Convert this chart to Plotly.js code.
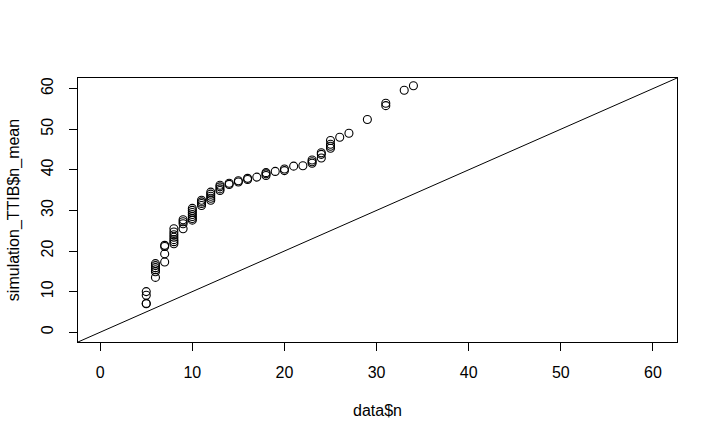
<!DOCTYPE html>
<html>
<head>
<meta charset="utf-8">
<script src="https://cdn.plot.ly/plotly-3.0.1.min.js"></script>
<style>html,body{margin:0;padding:0;background:#fff;}#chart{width:718px;height:440px;}</style>
</head>
<body>
<div id="chart"></div>
<script>
// data$n
var dataN = [
  5,5,5,5,
  6,6,6,6,6,6,
  7,7,7,7,
  8,8,8,8,8,8,8,
  9,9,9,9,
  10,10,10,10,10,10,10,
  11,11,11,11,
  12,12,12,12,12,
  13,13,13,13,
  14,14,
  15,15,
  16,16,
  17,
  18,18,18,
  19,
  20,20,
  21,
  22,
  23,23,23,
  24,24,24,
  25,25,25,25,
  26,
  27,
  29,
  31,31,
  33,
  34
];
// simulation_TTIB$n_mean
var nMean = [
  7.0,7.1,9.1,10.0,
  13.5,14.9,15.4,15.9,16.4,16.9,
  17.3,19.3,21.1,21.4,
  21.8,22.3,22.8,23.4,24.0,24.7,25.5,
  25.5,26.7,27.2,27.7,
  27.6,28.0,28.5,29.0,29.5,30.0,30.5,
  31.2,31.7,32.1,32.5,
  32.5,33.0,33.5,34.0,34.5,
  34.9,35.3,35.8,36.2,
  36.4,36.7,
  37.0,37.3,
  37.6,37.9,
  38.2,
  38.6,39.0,39.3,
  39.6,
  39.8,40.2,
  40.9,
  41.0,
  41.6,42.0,42.4,
  42.9,43.8,44.2,
  45.3,45.8,46.3,47.2,
  48.0,
  49.0,
  52.4,
  55.8,56.4,
  59.6,
  60.7
];
var tickVals = [0,10,20,30,40,50,60];
var tickText = ["0","10","20","30","40","50","60"];
var ablineIntercept = 0, ablineSlope = 1;

var axisLim = [0, 60.2];
var pad = 0.04 * (axisLim[1] - axisLim[0]);
var rng = [axisLim[0] - pad, axisLim[1] + pad];

var lineX = rng.slice();
var lineY = lineX.map(function(v){ return ablineIntercept + ablineSlope * v; });

var font = {family: "Liberation Sans, Arial, sans-serif", size: 16, color: "#000"};

var traces = [
  {x: dataN, y: nMean, type: "scatter", mode: "markers", cliponaxis: false,
   marker: {symbol: "circle-open", size: 8, color: "#000", line: {width: 1.1, color: "#000"}},
   hoverinfo: "x+y"},
  {x: lineX, y: lineY, type: "scatter", mode: "lines",
   line: {color: "#000", width: 1}, hoverinfo: "skip"}
];

var axisCommon = {
  range: rng, tickvals: tickVals, ticktext: tickText,
  showgrid: false, zeroline: false, showline: true, mirror: true,
  linecolor: "#000", linewidth: 1,
  ticks: "outside", ticklen: 8, tickwidth: 1, tickcolor: "#000",
  tickfont: font, fixedrange: true
};

var layout = {
  width: 718, height: 440,
  margin: {l: 78, r: 41, t: 78, b: 98, pad: 0},
  paper_bgcolor: "#fff", plot_bgcolor: "#fff",
  showlegend: false,
  font: font,
  xaxis: Object.assign({}, axisCommon, {
    title: {text: "data$n", font: font, standoff: 24},
    ticklabelstandoff: 8
  }),
  yaxis: Object.assign({}, axisCommon, {
    title: {text: "simulation_TTIB$n_mean", font: font, standoff: 14},
    tickangle: -90,
    ticklabelstandoff: 10
  })
};

Plotly.newPlot("chart", traces, layout, {displayModeBar: false, staticPlot: true});
</script>
</body>
</html>
